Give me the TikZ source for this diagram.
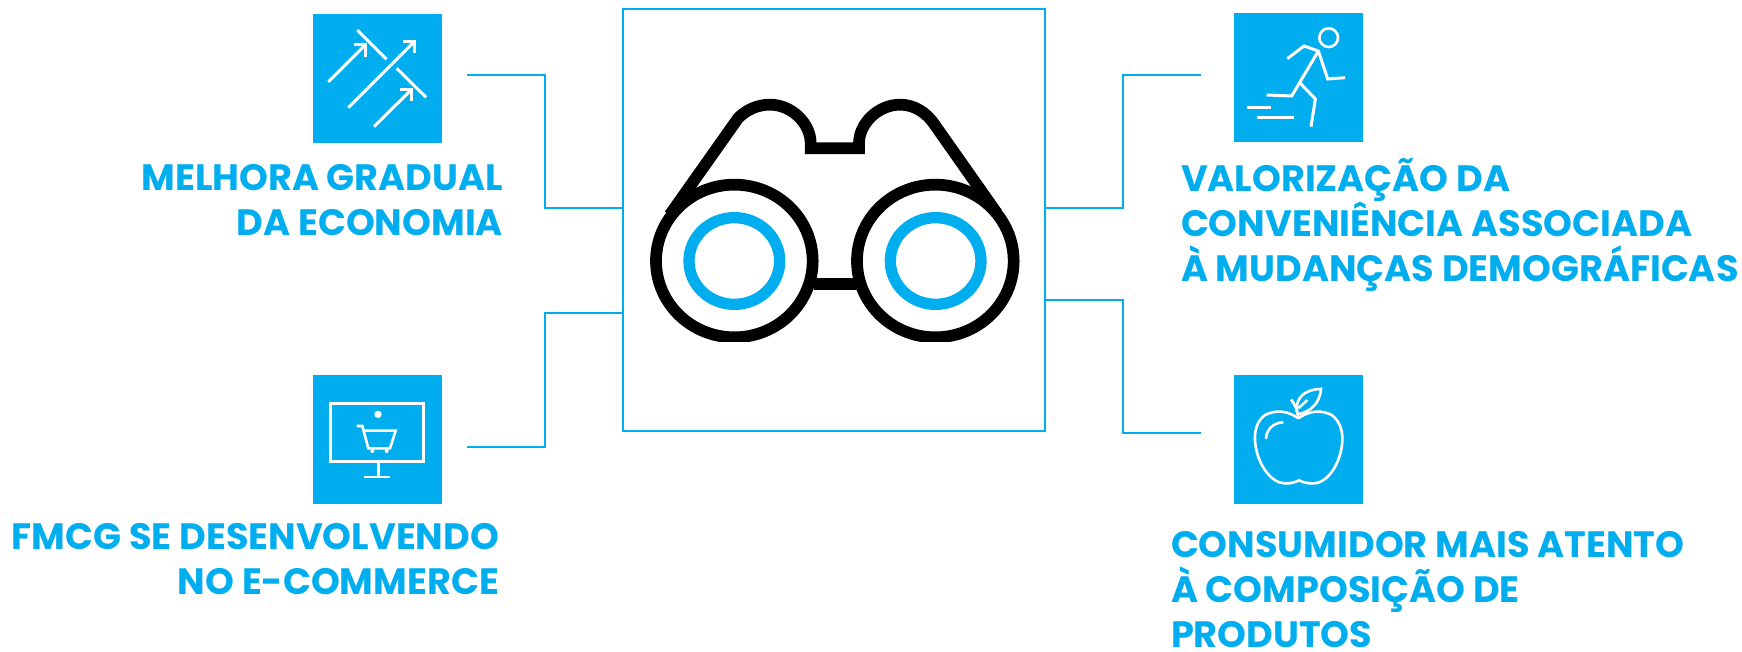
\documentclass[tikz,border=0pt]{standalone}
\usepackage{fontspec}
\setmainfont{Poppins}
\definecolor{brand}{HTML}{00AEEF}
\tikzset{
 iconbox/.style={fill=brand,draw=none,minimum size=129pt,inner sep=0pt,outer sep=0pt,anchor=north west},
 link/.style={draw=brand,line width=2.4pt},
 wline/.style={draw=white,line width=3pt},
 wthin/.style={draw=white,line width=2.6pt},
 label/.style={text=brand,font=\fontsize{36.7}{45}\selectfont\bfseries,inner sep=0pt,outer sep=0pt},
 zoomed/.style={x=0.33333pt,y=-0.33333pt},
 glass/.style={draw=black,line width=11.7pt},
 ring/.style={draw=brand,line width=11.3pt}
}
\begin{document}
\begin{tikzpicture}[x=1pt,y=-1pt]
\useasboundingbox (0,0) rectangle (1742,652);
\node[draw=brand,line width=2.4pt,minimum width=422pt,minimum height=422pt,inner sep=0pt,outer sep=0pt,anchor=north west] (frame) at (623,9) {};
\node[iconbox] (ia) at (313,14) {};
\node[iconbox] (ib) at (313,375) {};
\node[iconbox] (ic) at (1234,13) {};
\node[iconbox] (id) at (1234,375) {};
% connectors
\coordinate (a0) at (467,75); \coordinate (a1) at (623,208);
\coordinate (b0) at (467,447); \coordinate (b1) at (623,313);
\coordinate (c0) at (1201,75); \coordinate (c1) at (1045,208);
\coordinate (d0) at (1201,433); \coordinate (d1) at (1045,300);
\draw[link] (a0) -- (545,75) -- (545,208) -- (a1);
\draw[link] (b0) -- (545,447) -- (545,313) -- (b1);
\draw[link] (c0) -- (1123,75) -- (1123,208) -- (c1);
\draw[link] (d0) -- (1123,433) -- (1123,300) -- (d1);
% binoculars
\begin{scope}[shift={(640,80)},zoomed]
\begin{scope}
\clip (0,0) rectangle (1200,785);
\draw[glass] (283,543) ellipse [x radius=235,y radius=229];
\draw[glass] (886,543) ellipse [x radius=235,y radius=229];
\end{scope}
\draw[glass,line join=miter] (89,405) -- (294,115) .. controls (318,90) and (352,74) .. (390,74) .. controls (455,74) and (512,130) .. (512,190) -- (512,205) -- (657,205) -- (657,190) .. controls (657,130) and (715,74) .. (780,74) .. controls (825,74) and (860,100) .. (881,130) -- (1071,400);
\draw[glass] (522,611) -- (655,611);
\draw[ring] (283,543) ellipse [x radius=136,y radius=130];
\draw[ring] (887,543) ellipse [x radius=136,y radius=130];
\end{scope}
% arrows icon
\begin{scope}[shift={(300,0)},zoomed]
\draw[wline] (85,246) -- (195,136);
\draw[wline] (162,134) -- (195,134) -- (195,170);
\draw[wline] (145,323) -- (343,125);
\draw[wline] (308,125) -- (343,125) -- (343,158);
\draw[wline] (222,380) -- (333,270);
\draw[wline] (300,269) -- (333,269) -- (333,303);
\draw[wline] (172,90) -- (260,178);
\draw[wline] (290,205) -- (378,292);
\end{scope}
% cart icon
\begin{scope}[shift={(300,365)},zoomed]
\draw[draw=white,line width=3pt] (91,115) rectangle (371,290);
\fill[white] (234,148) circle [radius=11];
\draw[draw=white,line width=3pt] (234,290) -- (234,336);
\draw[wthin] (193,336) -- (270,336);
\draw[wthin] (170,183) -- (187,183) -- (205,250) -- (270,250) -- (287,197) -- (192,197);
\fill[white] (217,258) circle [radius=6];
\fill[white] (260,258) circle [radius=6];
\end{scope}
% runner icon
\begin{scope}[shift={(1220,0)},zoomed]
\draw[wthin] (326,113) circle [radius=28];
\draw[wline] (140,285) -- (215,288) -- (295,153);
\draw[wline] (202,176) -- (252,138) -- (295,153) -- (323,237) -- (375,233);
\draw[wline] (238,247) -- (286,297) -- (273,380);
\draw[wline] (81,322) -- (154,322);
\draw[wline] (110,352) -- (222,352);
\end{scope}
% apple icon
\begin{scope}[shift={(1220,365)},zoomed]
\draw[wthin] (235,160) .. controls (200,135) and (165,135) .. (135,150) .. controls (115,165) and (103,190) .. (105,225) .. controls (108,290) and (150,355) .. (195,355) .. controls (212,356) and (225,352) .. (237,346) .. controls (250,352) and (262,356) .. (280,355) .. controls (325,355) and (365,290) .. (367,225) .. controls (368,190) and (355,165) .. (335,150) .. controls (305,135) and (270,135) .. (235,160);
\draw[wthin] (138,222) .. controls (138,195) and (160,172) .. (190,172);
\draw[wthin] (213,103) .. controls (225,118) and (232,135) .. (235,160);
\draw[wthin] (232,145) .. controls (222,100) and (255,72) .. (303,72) .. controls (300,115) and (270,142) .. (232,148);
\draw[wthin] (235,130) -- (262,105);
\end{scope}
% labels
\node[label,align=right,anchor=north east] (ta) at (503,164) {MELHORA GRADUAL\\DA ECONOMIA};
\node[label,align=right,anchor=north east] (tb) at (499,523) {FMCG SE DESENVOLVENDO\\NO E-COMMERCE};
\node[label,align=left,anchor=north west] (tc) at (1181,159) {VALORIZAÇÃO DA\\CONVENIÊNCIA ASSOCIADA\\À MUDANÇAS DEMOGRÁFICAS};
\node[label,align=left,anchor=north west] (td) at (1171,531) {CONSUMIDOR MAIS ATENTO\\À COMPOSIÇÃO DE\\PRODUTOS};
\end{tikzpicture}
\end{document}
